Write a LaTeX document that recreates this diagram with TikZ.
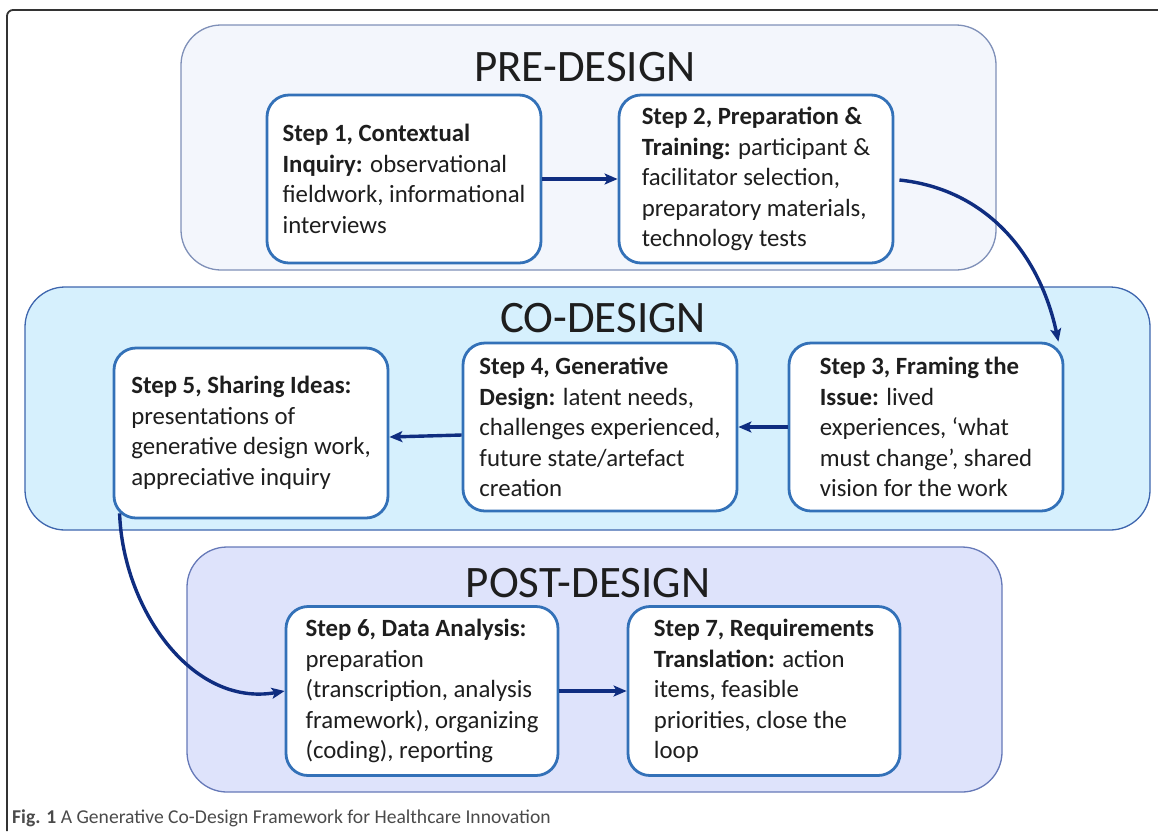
\documentclass[tikz,border=0pt]{standalone}
\usepackage{fontspec}
\setmainfont{Carlito}
\usetikzlibrary{arrows.meta}
\definecolor{boxblue}{HTML}{3371B8}
\definecolor{arrowblue}{HTML}{0F2D80}
\definecolor{txt}{HTML}{1E1E1E}
\definecolor{prefill}{HTML}{F3F6FC}
\definecolor{predraw}{HTML}{7F90B8}
\definecolor{cofill}{HTML}{D6F0FD}
\definecolor{codraw}{HTML}{3E66AE}
\definecolor{postfill}{HTML}{DEE3FB}
\definecolor{postdraw}{HTML}{6679B8}
\definecolor{framegray}{HTML}{333333}
\definecolor{captxt}{HTML}{4A4A4A}
\begin{document}
\begin{tikzpicture}[x=1pt,y=-1pt,line cap=butt,line join=miter,>={Stealth[length=13pt,width=11pt,inset=3pt]},
	phase/.style={line width=1.3pt,rounded corners=40pt},
	phasetitle/.style={inner sep=0pt,text=txt,font=\fontsize{45}{45}\selectfont},
	stepbox/.style={draw=boxblue,fill=white,line width=2.8pt,rounded corners=22pt,
		minimum width=274pt,minimum height=168pt,inner sep=0pt,
		align=left,text=txt,font=\fontsize{24.8}{30.5}\selectfont},
	flow/.style={->,draw=arrowblue,line width=3.4pt}]
	\useasboundingbox (0,0) rectangle (1158,831);
	\draw[line width=1.8pt,draw=framegray,rounded corners=6pt] (7,831) -- (7,10) -- (1158,10);
	\draw[phase,fill=prefill,draw=predraw] (181,25) rectangle (996,270);
	\draw[phase,fill=cofill,draw=codraw] (25,287) rectangle (1150,530);
	\draw[phase,fill=postfill,draw=postdraw] (187,547) rectangle (1002,792);
	\node[phasetitle] (pretitle) at (585,67) {PRE-DESIGN};
	\node[phasetitle] (cotitle) at (603,318) {CO-DESIGN};
	\node[phasetitle] (posttitle) at (588,583) {POST-DESIGN};
	\node[stepbox] (s1) at (404,179) {\textbf{Step 1, Contextual}\\ \textbf{Inquiry:} observational\\ fieldwork, informational\\ interviews};
	\node[stepbox] (s2) at (756,179) {\textbf{Step 2, Preparation \&}\\ \textbf{Training:} participant \&\\ facilitator selection,\\ preparatory materials,\\ technology tests};
	\node[stepbox] (s3) at (926,427) {\textbf{Step 3, Framing the}\\ \textbf{Issue:} lived\\ experiences, `what\\ must change', shared\\ vision for the work};
	\node[stepbox] (s4) at (600,427) {\textbf{Step 4, Generative}\\ \textbf{Design:} latent needs,\\ challenges experienced,\\ future state/artefact\\ creation};
	\node[stepbox,minimum height=170pt] (s5) at (251,433) {\textbf{Step 5, Sharing Ideas:}\\ presentations of\\ generative design work,\\ appreciative inquiry};
	\node[stepbox,minimum width=272pt,minimum height=169pt] (s6) at (422,691) {\textbf{Step 6, Data Analysis:}\\ preparation\\ (transcription, analysis\\ framework), organizing\\ (coding), reporting};
	\node[stepbox,minimum width=272pt,minimum height=169pt] (s7) at (764,691) {\textbf{Step 7, Requirements}\\ \textbf{Translation:} action\\ items, feasible\\ priorities, close the\\ loop};
	\draw[flow] (s1) -- (s2);
	\draw[flow] ([xshift=5pt,yshift=-1pt]s2.east) to[out=-6,in=102] ([xshift=-6pt]s3.north east);
	\draw[flow] (s3) -- (s4);
	\draw[flow] ([yshift=-8pt]s4.west) -- ([yshift=-4pt]s5.east);
	\draw[flow] ([xshift=7pt,yshift=6pt]s5.south west) to[out=-88,in=190] (s6.west);
	\draw[flow] (s6) -- (s7);
	\node[anchor=base west,inner sep=0pt,text=captxt,font=\fontsize{19.6}{19.6}\selectfont] (caption) at (12,823) {\textbf{Fig. 1} A Generative Co-Design Framework for Healthcare Innovation};
\end{tikzpicture}
\end{document}
